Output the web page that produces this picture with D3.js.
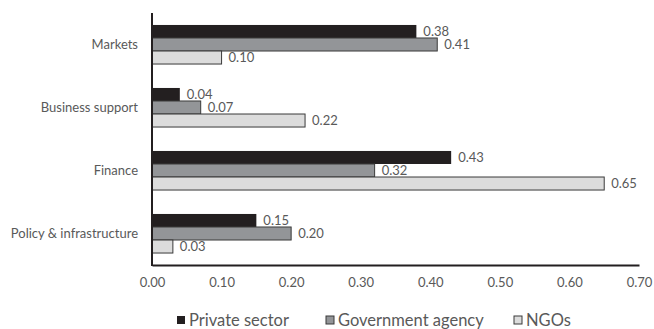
<!DOCTYPE html>
<html>
<head>
    <script src="https://d3js.org/d3.v7.min.js"></script>
    <style>
        body { margin: 0; background: #fff; }
        text { font-family: Lato, "Open Sans", Arial, sans-serif; fill: #595959; }
        .cat text { font-size: 13px; }
        .val { font-size: 13px; }
        .xaxis text { font-size: 13px; }
        .legend text { font-size: 16.5px; }
    </style>
</head>
<body>
    <div id="chart"></div>

    <script>
        // Data
        const categories = ["Markets", "Business support", "Finance", "Policy & infrastructure"];
        const seriesNames = ["Private sector", "Government agency", "NGOs"];
        const privateSector = [0.38, 0.04, 0.43, 0.15];
        const governmentAgency = [0.41, 0.07, 0.32, 0.20];
        const ngos = [0.10, 0.22, 0.65, 0.03];
        const xTicks = [0, 0.1, 0.2, 0.3, 0.4, 0.5, 0.6, 0.7];

        const seriesValues = [privateSector, governmentAgency, ngos];
        const fills = ["#231f20", "#939598", "#dcdcdc"];

        const width = 654, height = 329;
        const margin = { top: 13, right: 15, bottom: 64, left: 152 };

        const svg = d3.select("#chart")
            .append("svg")
            .attr("width", width)
            .attr("height", height);

        const x = d3.scaleLinear()
            .domain([0, 0.7])
            .range([margin.left, 639]);

        const y = d3.scaleBand()
            .domain(categories)
            .range([margin.top, height - margin.bottom])
            .paddingInner(0.38)
            .paddingOuter(0.19);

        const sub = d3.scaleBand()
            .domain(seriesNames)
            .range([0, y.bandwidth()]);

        // bars
        const rows = categories.map((c, i) => ({
            cat: c,
            vals: seriesNames.map((s, j) => ({ s, j, v: seriesValues[j][i] }))
        }));

        const group = svg.selectAll(".grp")
            .data(rows)
            .enter()
            .append("g")
            .attr("class", "grp")
            .attr("transform", d => `translate(0,${y(d.cat)})`);

        group.selectAll("rect")
            .data(d => d.vals)
            .enter()
            .append("rect")
            .attr("x", x(0))
            .attr("y", d => sub(d.s))
            .attr("width", d => x(d.v) - x(0))
            .attr("height", sub.bandwidth())
            .attr("fill", d => fills[d.j])
            .attr("stroke", d => d.j === 0 ? "none" : "#3a3a3a")
            .attr("stroke-width", 1);

        group.selectAll(".val")
            .data(d => d.vals)
            .enter()
            .append("text")
            .attr("class", "val")
            .attr("x", d => x(d.v) + 7)
            .attr("y", d => sub(d.s) + sub.bandwidth() / 2)
            .attr("dy", "0.35em")
            .text(d => d.v.toFixed(2));

        // category labels
        const cat = svg.append("g").attr("class", "cat");
        cat.selectAll("text")
            .data(categories)
            .enter()
            .append("text")
            .attr("x", 138)
            .attr("y", d => y(d) + y.bandwidth() / 2)
            .attr("dy", "0.35em")
            .attr("text-anchor", "end")
            .text(d => d);

        // x axis
        const xAxis = svg.append("g")
            .attr("class", "xaxis")
            .attr("transform", `translate(0,${height - margin.bottom})`)
            .call(d3.axisBottom(x).tickValues(xTicks).tickFormat(d3.format(".2f")).tickSize(0).tickPadding(13));
        xAxis.select(".domain").attr("stroke", "#231f20").attr("stroke-width", 2);
        xAxis.selectAll("text").attr("fill", "#595959");

        // y axis line
        svg.append("line")
            .attr("x1", x(0)).attr("x2", x(0))
            .attr("y1", margin.top).attr("y2", height - margin.bottom + 1)
            .attr("stroke", "#231f20")
            .attr("stroke-width", 2);

        // legend
        const legendX = [177, 326, 514];
        const legend = svg.append("g").attr("class", "legend");
        const item = legend.selectAll("g")
            .data(seriesNames)
            .enter()
            .append("g")
            .attr("transform", (d, i) => `translate(${legendX[i]},316)`);
        item.append("rect")
            .attr("width", 8)
            .attr("height", 8)
            .attr("fill", (d, i) => fills[i])
            .attr("stroke", (d, i) => i === 0 ? "none" : "#3a3a3a");
        item.append("text")
            .attr("x", 12)
            .attr("y", 4)
            .attr("dy", "0.35em")
            .text(d => d);
    </script>
</body>
</html>
